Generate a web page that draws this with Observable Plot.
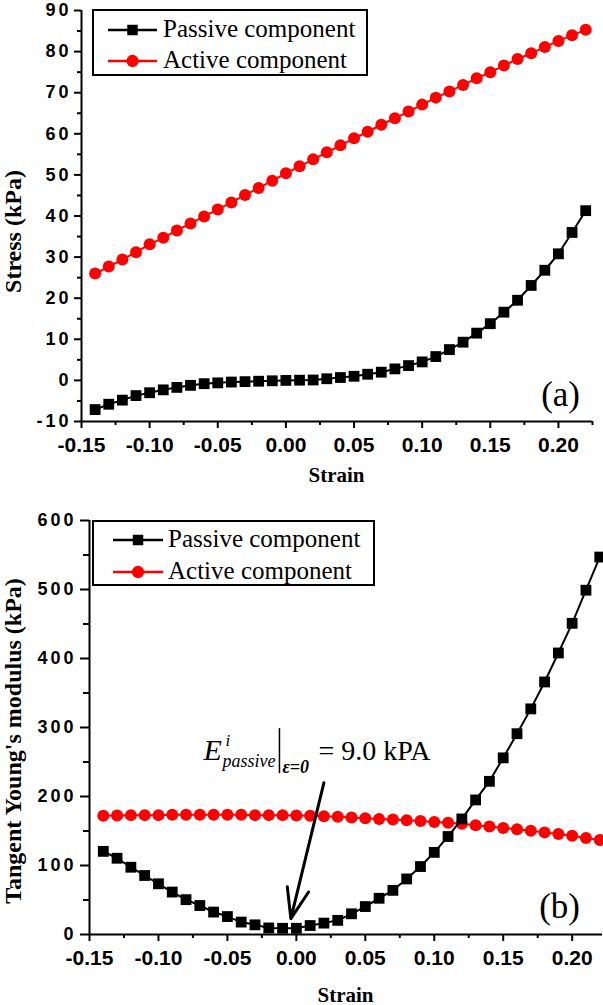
<!DOCTYPE html>
<html><head><meta charset="utf-8">
<script src="https://cdn.jsdelivr.net/npm/d3@7"></script>
<script src="https://cdn.jsdelivr.net/npm/@observablehq/plot@0.6"></script>
<style>
body{margin:0;background:#fff;}
#chart{width:603px;}
#chart svg{display:block;}
</style></head><body><div id="chart"></div>
<script>
// ---------- data ----------
const strain = [-0.14,-0.13,-0.12,-0.11,-0.10,-0.09,-0.08,-0.07,-0.06,-0.05,-0.04,-0.03,-0.02,-0.01,0.00,
  0.01,0.02,0.03,0.04,0.05,0.06,0.07,0.08,0.09,0.10,0.11,0.12,0.13,0.14,0.15,0.16,0.17,0.18,0.19,0.20,0.21,0.22];
const stressPassive = [-7.1,-5.8,-4.8,-3.7,-3.0,-2.3,-1.7,-1.2,-0.8,-0.6,-0.4,-0.3,-0.2,-0.1,0.0,
  0.05,0.1,0.4,0.7,1.0,1.5,2.0,2.8,3.6,4.5,5.8,7.5,9.3,11.5,13.8,16.6,19.5,23.1,26.8,30.8,36.0,41.3];
const stressActive = [26.0,27.7,29.4,31.2,33.1,34.7,36.5,38.2,39.9,41.6,43.3,45.1,46.8,48.6,50.4,
  52.1,53.8,55.5,57.2,58.9,60.5,62.2,63.8,65.4,67.1,68.8,70.3,71.9,73.5,75.0,76.6,78.2,79.6,81.1,82.6,84.0,85.3];
const modulusPassive = [120.5,110.5,97.5,85.5,73.5,61.5,50.5,42,32.5,26,18,14,9.5,9.0,9.0,
  13,16.5,20.5,30,40.5,52.5,64,80.5,98.5,119,142,167.5,195,222,256,291,327,366,408,451,499,547];
const modulusActive = [172,172.5,173,173,173,173.5,173.5,173.5,173.5,173.5,173.5,173,173,173,172.5,
  172,171.5,170.5,169.5,168.5,167.5,166.5,165.5,164.5,163,162,160.5,158.5,156.5,154.5,152.5,150.5,148,145.5,143,140,137];

const seriesNames = ["Passive component", "Active component"];
const seriesColors = ["#000000", "#ff0000"];
const seriesSymbols = ["square", "circle"];

const strainTicks = [-0.15,-0.10,-0.05,0.00,0.05,0.10,0.15,0.20];
const strainMinor = [-0.125,-0.075,-0.025,0.025,0.075,0.125,0.175,0.225];
const stressTicks = [-10,0,10,20,30,40,50,60,70,80,90];
const stressMinor = [-5,5,15,25,35,45,55,65,75,85];
const modulusTicks = [0,100,200,300,400,500,600];
const modulusMinor = [50,150,250,350,450,550];

const annotation = [{strain: -0.067, modulus: 252, value: "= 9.0 kPA"}];
const annotationArrow = [{x1: 0.020, y1: 220, x2: -0.004, y2: 23}];

// ---------- helpers ----------
const SERIF = "'Liberation Serif','Times New Roman',serif";
const SANS = "'Liberation Sans',Arial,sans-serif";
const rows = arr => strain.map((s, i) => ({strain: s, value: arr[i]}));

function decorations(cfg) {
  return (index, scales, values, dim) => {
    const g = d3.create("svg:g").attr("text-anchor", "start");
    const L = dim.marginLeft, T = dim.marginTop;
    const R = dim.width - dim.marginRight, B = dim.height - dim.marginBottom;
    // legend
    const lg = cfg.legend;
    g.append("rect").attr("x", L + lg.dx).attr("y", T + lg.dy).attr("width", lg.w).attr("height", lg.h)
      .attr("fill", "white").attr("stroke", "black").attr("stroke-width", 2);
    seriesNames.forEach((name, i) => {
      const cy = T + lg.dy + lg.row0 + i * lg.rowGap;
      const x0 = L + lg.dx + lg.lineX0, x1 = L + lg.dx + lg.lineX1;
      g.append("line").attr("x1", x0).attr("x2", x1).attr("y1", cy).attr("y2", cy)
        .attr("stroke", seriesColors[i]).attr("stroke-width", 2.5);
      const sym = seriesSymbols[i] === "square" ? d3.symbolSquare : d3.symbolCircle;
      g.append("path").attr("d", d3.symbol(sym, i === 0 ? 110 : 120)())
        .attr("transform", `translate(${(x0 + x1) / 2},${cy})`).attr("fill", seriesColors[i]);
      g.append("text").attr("x", L + lg.dx + lg.textX).attr("y", cy + 7).attr("text-anchor", "start")
        .attr("font-family", SERIF).attr("font-size", 25).attr("fill", "black").text(name);
    });
    // panel tag
    g.append("text").attr("x", R - cfg.tag.dx).attr("y", B - cfg.tag.dy).attr("text-anchor", "end")
      .attr("font-family", SERIF).attr("font-size", 35).attr("fill", "black").text(cfg.tag.text);
    // axis titles
    g.append("text").attr("x", (L + R) / 2).attr("y", dim.height - cfg.xLabelBottom)
      .attr("text-anchor", "middle").attr("font-family", SERIF).attr("font-weight", "bold")
      .attr("font-size", 21).attr("fill", "black").text("Strain");
    g.append("text").attr("transform", `translate(${cfg.yLabelX},${(T + B) / 2 + cfg.yLabelShift}) rotate(-90)`)
      .attr("text-anchor", "middle").attr("dominant-baseline", "central").attr("font-family", SERIF)
      .attr("font-weight", "bold").attr("font-size", 24).attr("fill", "black").text(cfg.yLabel);
    return g.node();
  };
}

function formulaMark(index, scales) {
  const a = annotation[0];
  const x = scales.x(a.strain), y = scales.y(a.modulus);
  const g = d3.create("svg:g").attr("font-family", SERIF).attr("fill", "black").attr("text-anchor", "start");
  g.append("text").attr("x", x).attr("y", y).attr("font-size", 30).attr("font-style", "italic").text("E");
  g.append("text").attr("x", x + 22).attr("y", y - 14).attr("font-size", 17).attr("font-style", "italic").text("i");
  g.append("text").attr("x", x + 19).attr("y", y + 7).attr("font-size", 18).attr("font-style", "italic").text("passive");
  g.append("line").attr("x1", x + 76).attr("x2", x + 76).attr("y1", y - 32).attr("y2", y + 13)
    .attr("stroke", "black").attr("stroke-width", 1.5);
  g.append("text").attr("x", x + 79).attr("y", y + 13).attr("font-size", 18).attr("font-style", "italic")
    .attr("font-weight", "bold").text("ε=0");
  g.append("text").attr("x", x + 115).attr("y", y).attr("font-size", 28).text(a.value);
  return g.node();
}

function axes(yTicks, yMinor, ySize, yMinorSize, yPad) {
  const common = {label: null, strokeWidth: 2, stroke: "black", fill: "black"};
  return [
    Plot.axisX({...common, ticks: strainTicks, tickSize: 7, tickPadding: 9,
      tickFormat: d => d.toFixed(2), fontSize: 21, fontWeight: "bold", fontFamily: SANS}),
    Plot.axisX({...common, ticks: strainMinor, tickSize: 4, tickFormat: () => ""}),
    Plot.axisY({...common, ticks: yTicks, tickSize: ySize, tickPadding: yPad,
      tickFormat: d => String(d), fontSize: 18, fontWeight: "bold", fontFamily: SANS}),
    Plot.axisY({...common, ticks: yMinor, tickSize: yMinorSize, tickFormat: () => ""})
  ];
}

function spaceYLabels(svg) {
  d3.select(svg).selectAll('g[aria-label="y-axis tick label"] text').style("letter-spacing", "3px");
  return svg;
}

// ---------- panel (a) ----------
const panelA = Plot.plot({
  width: 603, height: 490,
  marginLeft: 81, marginRight: 11, marginTop: 10, marginBottom: 69,
  x: {domain: [-0.15, 0.225]},
  y: {domain: [-10, 90]},
  style: {background: "white", overflow: "visible"},
  marks: [
    ...axes(stressTicks, stressMinor, 7, 4, 3),
    Plot.ruleX([-0.15], {strokeWidth: 2}),
    Plot.ruleY([-10], {strokeWidth: 2}),
    Plot.line(rows(stressPassive), {x: "strain", y: "value", stroke: seriesColors[0], strokeWidth: 2}),
    Plot.dot(rows(stressPassive), {x: "strain", y: "value", symbol: "square", r: 6.1, fill: seriesColors[0]}),
    Plot.line(rows(stressActive), {x: "strain", y: "value", stroke: seriesColors[1], strokeWidth: 2}),
    Plot.dot(rows(stressActive), {x: "strain", y: "value", symbol: "circle", r: 6, fill: seriesColors[1]}),
    decorations({
      legend: {dx: 12, dy: 0, w: 274, h: 65, row0: 20, rowGap: 31, lineX0: 15, lineX1: 64, textX: 70},
      tag: {text: "(a)", dx: 12, dy: 15},
      xLabelBottom: 8, yLabelX: 13, yLabelShift: 16, yLabel: "Stress (kPa)"
    })
  ]
});

// ---------- panel (b) ----------
const panelB = Plot.plot({
  width: 603, height: 515,
  marginLeft: 89, marginRight: 1, marginTop: 30, marginBottom: 71,
  x: {domain: [-0.15, 0.222]},
  y: {domain: [0, 600]},
  style: {background: "white", overflow: "visible"},
  marks: [
    ...axes(modulusTicks, modulusMinor, 9, 6, 4),
    Plot.ruleX([-0.15], {strokeWidth: 2}),
    Plot.ruleY([0], {strokeWidth: 2}),
    Plot.line(rows(modulusActive), {x: "strain", y: "value", stroke: seriesColors[1], strokeWidth: 2}),
    Plot.dot(rows(modulusActive), {x: "strain", y: "value", symbol: "circle", r: 6, fill: seriesColors[1]}),
    Plot.line(rows(modulusPassive), {x: "strain", y: "value", stroke: seriesColors[0], strokeWidth: 2}),
    Plot.dot(rows(modulusPassive), {x: "strain", y: "value", symbol: "square", r: 6.1, fill: seriesColors[0]}),
    Plot.arrow(annotationArrow, {x1: "x1", y1: "y1", x2: "x2", y2: "y2", stroke: "black",
      strokeWidth: 3, headLength: 16, headAngle: 40}),
    formulaMark,
    decorations({
      legend: {dx: 4, dy: 1, w: 281, h: 64, row0: 19, rowGap: 32, lineX0: 20, lineX1: 70, textX: 75},
      tag: {text: "(b)", dx: 22, dy: 16},
      xLabelBottom: 3, yLabelX: 13, yLabelShift: 14, yLabel: "Tangent Young's modulus (kPa)"
    })
  ]
});

const root = document.getElementById("chart");
root.appendChild(spaceYLabels(panelA));
root.appendChild(spaceYLabels(panelB));
</script>
</body></html>
